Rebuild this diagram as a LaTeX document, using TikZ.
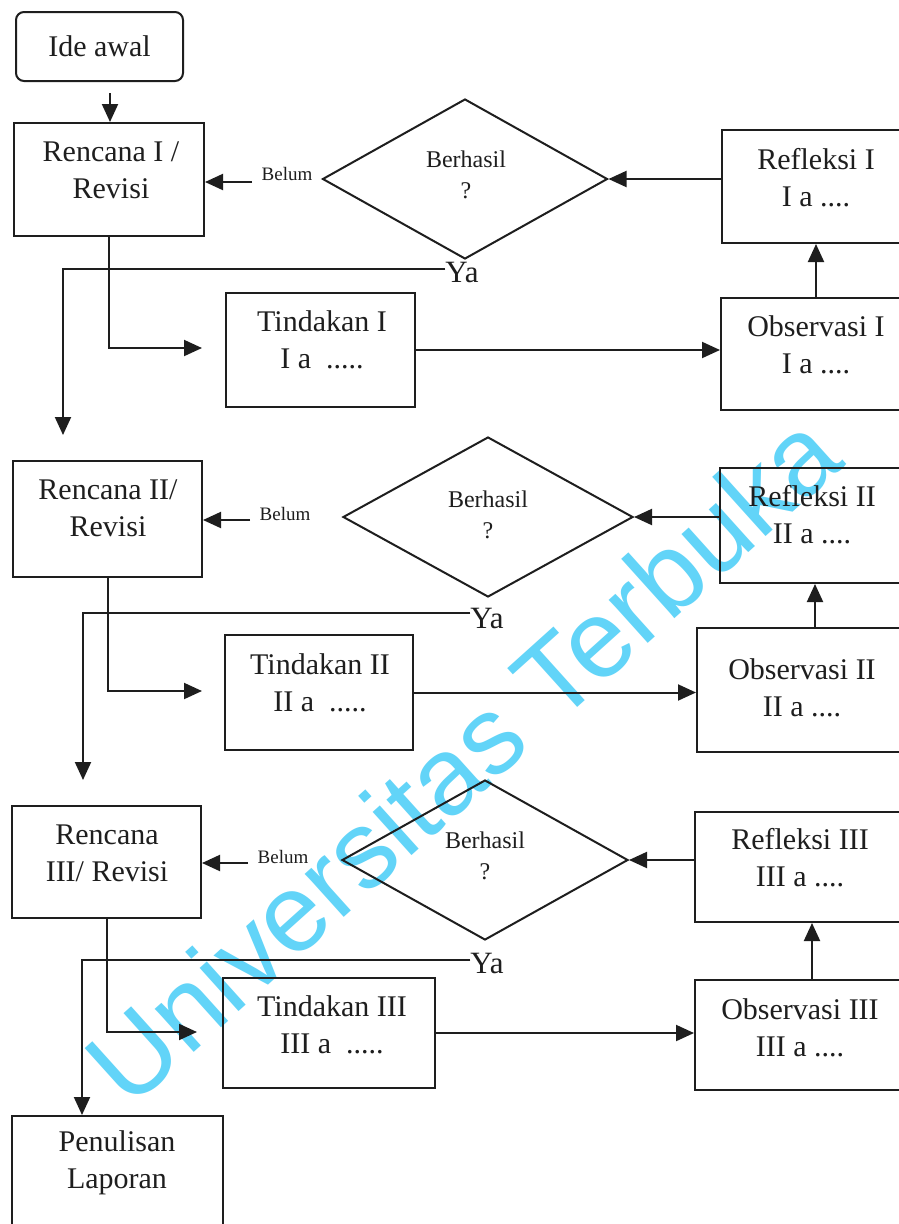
\documentclass[tikz,border=0pt]{standalone}
\usepackage{fontspec}
\setmainfont{Liberation Serif}
\newfontfamily\wmfont{Liberation Sans}
\usetikzlibrary{arrows.meta,shapes.geometric}
\definecolor{ink}{RGB}{30,30,30}
\definecolor{wm}{RGB}{98,212,248}
\begin{document}
\begin{tikzpicture}[x=1pt,y=-1pt,
 box/.style={draw=ink, line width=2pt, rectangle, inner sep=0pt},
 txt/.style={text=ink, font=\fontsize{30}{37}\selectfont, align=center, inner sep=0pt},
 arr/.style={draw=ink, line width=2pt, -{Triangle[length=18pt,width=16pt]}},
 dia/.style={draw=ink, line width=2pt, diamond, inner sep=0pt},
 small/.style={text=ink, font=\fontsize{19}{22}\selectfont, inner sep=0pt},
 qtxt/.style={text=ink, font=\fontsize{24}{31}\selectfont, align=center, inner sep=0pt},
 yatxt/.style={text=ink, font=\fontsize{31}{32}\selectfont, inner sep=0pt},
]
\clip (0,0) rectangle (899,1224);
\fill[white] (0,0) rectangle (899,1224);
\node[text=wm, font=\wmfont\fontsize{110}{110}\selectfont, rotate=42, inner sep=0pt] (wmark) at (462,758) {Universitas Terbuka};

% start
\node[box, rounded corners=8pt, minimum width=167pt, minimum height=69pt, text=ink, font=\fontsize{30}{37}\selectfont] (ide) at (99.5,46.5) {Ide awal};

% boxes
\node[box, minimum width=190pt, minimum height=113pt] (r1) at (109,179.5) {};
\node[box, minimum width=189pt, minimum height=116pt] (r2) at (107.5,519) {};
\node[box, minimum width=189pt, minimum height=112pt] (r3) at (106.5,862) {};
\node[box, minimum width=211pt, minimum height=124pt] (pl) at (117.5,1178) {};
\node[box, minimum width=189pt, minimum height=114pt] (t1) at (320.5,350) {};
\node[box, minimum width=188pt, minimum height=115pt] (t2) at (319,692.5) {};
\node[box, minimum width=212pt, minimum height=110pt] (t3) at (329,1033) {};
\node[box, minimum width=188pt, minimum height=113pt] (rf1) at (816,186.5) {};
\node[box, minimum width=190pt, minimum height=112pt] (o1) at (816,354) {};
\node[box, minimum width=190pt, minimum height=115pt] (rf2) at (815,525.5) {};
\node[box, minimum width=236pt, minimum height=124pt] (o2) at (815,690) {};
\node[box, minimum width=234pt, minimum height=110pt] (rf3) at (812,867) {};
\node[box, minimum width=234pt, minimum height=110pt] (o3) at (812,1035) {};

% box texts
\node[txt] (r1t) at (111,170) {Rencana I /\\Revisi};
\node[txt] (r2t) at (108,508) {Rencana II/\\Revisi};
\node[txt] (r3t) at (107,853) {Rencana\\III/ Revisi};
\node[txt] (plt) at (117,1163) {Penulisan\\Laporan};
\node[txt] (t1t) at (322,340) {Tindakan I\\I a\enspace.....};
\node[txt] (t2t) at (320,683) {Tindakan II\\II a\enspace.....};
\node[txt] (t3t) at (332,1025) {Tindakan III\\III a\enspace.....};
\node[txt] (rf1t) at (816,178) {Refleksi I\\I a ....};
\node[txt] (o1t) at (816,345) {Observasi I\\I a ....};
\node[txt] (rf2t) at (812,515) {Refleksi II\\II a ....};
\node[txt] (o2t) at (802,688) {Observasi II\\II a ....};
\node[txt] (rf3t) at (800,858) {Refleksi III\\III a ....};
\node[txt] (o3t) at (800,1028) {Observasi III\\III a ....};

% decisions
\node[dia, minimum width=285pt, minimum height=160pt] (d1) at (465,179) {};
\node[dia, minimum width=290pt, minimum height=160pt] (d2) at (488,517) {};
\node[dia, minimum width=286pt, minimum height=160pt] (d3) at (485,860) {};
\node[qtxt] (q1) at (466,175) {Berhasil\\?};
\node[qtxt] (q2) at (488,515) {Berhasil\\?};
\node[qtxt] (q3) at (485,856) {Berhasil\\?};

% labels
\node[small] (b1) at (287,174) {Belum};
\node[small] (b2) at (285,514) {Belum};
\node[small] (b3) at (283,857) {Belum};
\node[yatxt] (ya1) at (462,272) {Ya};
\node[yatxt] (ya2) at (487,618) {Ya};
\node[yatxt] (ya3) at (487,963) {Ya};

% coordinates
\coordinate (ideA) at (110,93);
\coordinate (bl1) at (252,182);
\coordinate (bl2) at (250,520);
\coordinate (bl3) at (248,863);
\coordinate (y1e) at (63,435);
\coordinate (y2e) at (83,780);
\coordinate (y3x) at (82,0);
\coordinate (t1a) at (202,348);
\coordinate (t2a) at (202,691);
\coordinate (t3a) at (197,1032);

% connectors
\draw[arr] (ideA) -- (ideA |- r1.north);
\draw[arr] (bl1) -- (bl1 -| r1.east);
\draw[arr] (bl2) -- (bl2 -| r2.east);
\draw[arr] (bl3) -- (bl3 -| r3.east);
\draw[arr] ([yshift=3pt]ya1.west) -| (y1e);
\draw[arr] ([yshift=5pt]ya2.west) -| (y2e);
\draw[arr] ([yshift=3pt]ya3.west) -| (y3x |- pl.north);
\draw[arr] (r1.south) |- (t1a);
\draw[arr] (r2.south) |- (t2a);
\draw[arr] (r3.south) |- (t3a);
\draw[arr] (t1.east) -- (t1.east -| o1.west);
\draw[arr] (t2.east) -- (t2.east -| o2.west);
\draw[arr] (t3.east) -- (t3.east -| o3.west);
\draw[arr] (o1.north) -- (rf1.south);
\draw[arr] (o2.north) -- (rf2.south);
\draw[arr] (o3.north) -- (rf3.south);
\draw[arr] (d1.east -| rf1.west) -- (d1.east);
\draw[arr] (d2.east -| rf2.west) -- (d2.east);
\draw[arr] (d3.east -| rf3.west) -- (d3.east);
\end{tikzpicture}
\end{document}
